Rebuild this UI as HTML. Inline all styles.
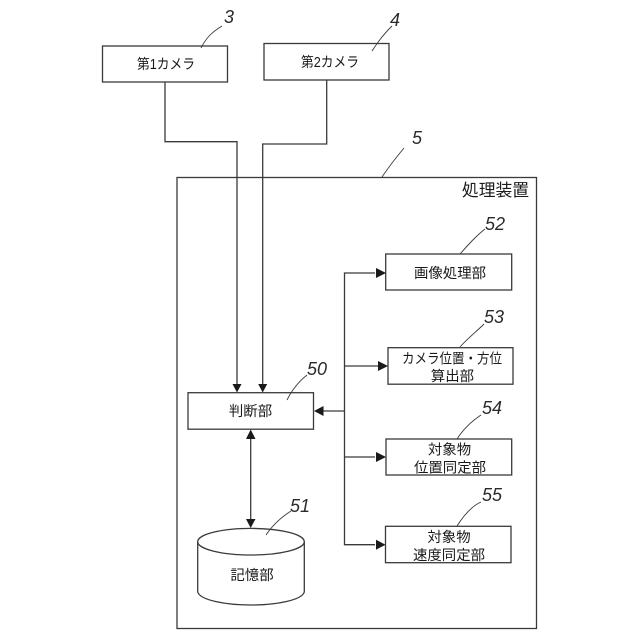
<!DOCTYPE html>
<html><head><meta charset="utf-8"><style>
html,body{margin:0;padding:0;background:#fff}
svg{display:block}
text{font-family:"Liberation Sans","Noto Sans CJK JP",sans-serif;fill:#1a1a1a;font-size:14.4px;text-anchor:middle}
.n{font-style:italic;font-size:18px;fill:#2a2a2a}
</style></head><body>
<svg width="640" height="640" viewBox="0 0 640 640" xmlns="http://www.w3.org/2000/svg">
<g fill="none" stroke="#3a3a3a" stroke-width="1.3">
<rect x="177" y="177.5" width="359.5" height="451"/>
<rect x="102.5" y="46" width="125" height="36"/>
<rect x="264" y="43.5" width="125" height="36.5"/>
<rect x="188" y="392.7" width="125.5" height="36.5"/>
<rect x="385.7" y="254" width="126" height="36"/>
<rect x="388" y="347.7" width="125" height="36.5"/>
<rect x="386" y="439" width="125.7" height="36"/>
<rect x="385.5" y="526.3" width="125.5" height="36.4"/>
<path d="M165 82V141.7H237V384"/>
<path d="M326.7 80V144H262.7V384"/>
<path d="M375 273H344.5V544.7H375M344.5 366H378M344.5 457H375M344.5 411H322"/>
<path d="M250.7 438V520"/>
<ellipse cx="251" cy="541.7" rx="53.3" ry="13.3"/>
<path d="M197.7 541.7V592C200 600 225 605 251 605C277 605 302 600 304.3 592V541.7"/>
</g>
<g fill="none" stroke="#3a3a3a" stroke-width="0.9">
<path d="M201 48C206 38 212 32 222 26"/>
<path d="M372 51C378 42 382 36 392 26"/>
<path d="M382 177C388 168 394 160 404 148"/>
<path d="M460 254C468 245 476 236 485 229"/>
<path d="M460 347C468 338 476 332 484 324"/>
<path d="M457 439C464 428 472 421 481 415"/>
<path d="M457 526C464 515 472 506 481 502"/>
<path d="M287 400C292 390 298 382 307 375"/>
<path d="M266 535C272 526 280 518 291 511"/>
</g>
<g fill="#1a1a1a">
<path d="M386 273L376 268V278Z"/>
<path d="M388 366L378 361V371Z"/>
<path d="M386 457L376 452V462Z"/>
<path d="M385.5 544.7L376 539.7V549.7Z"/>
<path d="M314 411L323.5 406V416Z"/>
<path d="M237 392.5L232.5 384H241.5Z"/>
<path d="M262.7 392.5L258.2 384H267.2Z"/>
<path d="M250.7 429.5L246 439H255.5Z"/>
<path d="M250.7 528L246 519H255.5Z"/>
</g>
<text x="166" y="69" textLength="58" lengthAdjust="spacingAndGlyphs">第1カメラ</text>
<text x="330" y="67" textLength="58" lengthAdjust="spacingAndGlyphs">第2カメラ</text>
<text x="495.5" y="196" style="font-size:16.8px">処理装置</text>
<text x="450" y="278">画像処理部</text>
<text x="452" y="363.5" textLength="100" lengthAdjust="spacingAndGlyphs">カメラ位置・方位</text>
<text x="452.4" y="381">算出部</text>
<text x="449.5" y="454.5">対象物</text>
<text x="450" y="472.5">位置同定部</text>
<text x="449" y="542">対象物</text>
<text x="449" y="560">速度同定部</text>
<text x="250.5" y="416">判断部</text>
<text x="252" y="580">記憶部</text>
<text class="n" x="229" y="23">3</text>
<text class="n" x="395" y="26">4</text>
<text class="n" x="417" y="144">5</text>
<text class="n" x="495" y="230">52</text>
<text class="n" x="494" y="323">53</text>
<text class="n" x="492" y="414">54</text>
<text class="n" x="492" y="501">55</text>
<text class="n" x="317" y="375">50</text>
<text class="n" x="300" y="512">51</text>
</svg>
</body></html>
